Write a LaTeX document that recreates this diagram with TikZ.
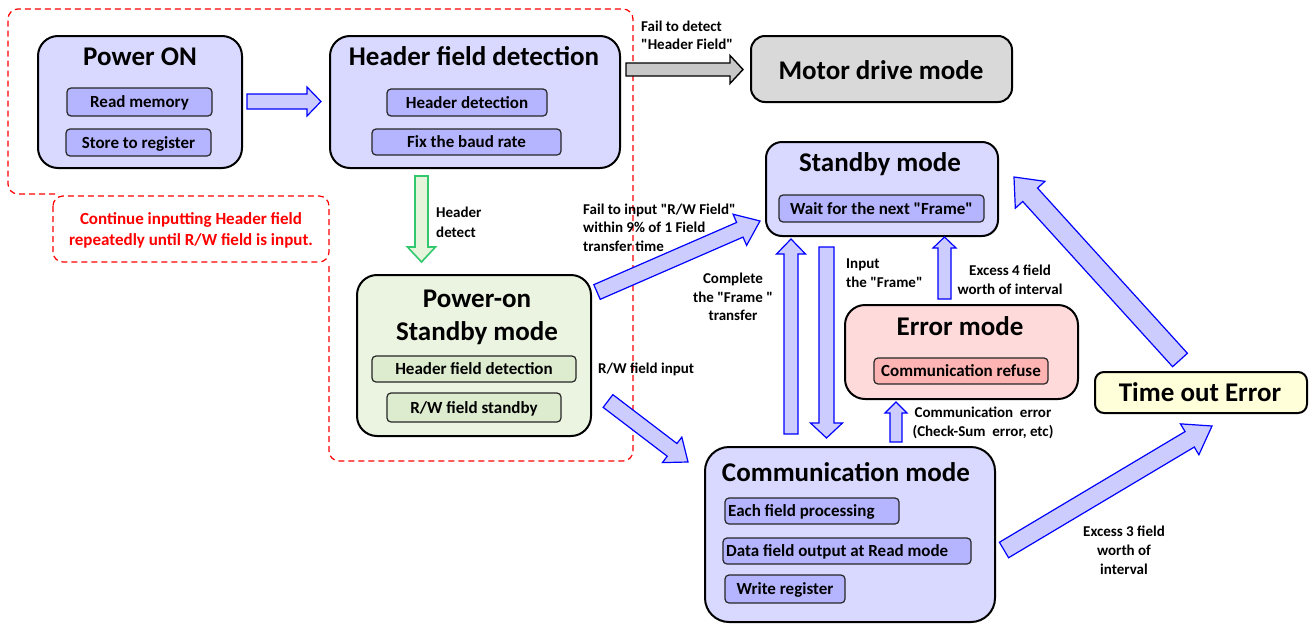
\documentclass[tikz,border=0pt]{standalone}
\usepackage{fontspec}
% plain family without the TeX quote mapping, so " stays straight
\newfontfamily\cfont{Carlito}
\usetikzlibrary{calc}

\definecolor{lav}{RGB}{217,217,255}
\definecolor{lavsub}{RGB}{181,181,255}
\definecolor{arrfill}{RGB}{204,204,255}
\definecolor{arrline}{RGB}{0,0,255}
\definecolor{grn}{RGB}{235,243,225}
\definecolor{grnsub}{RGB}{221,236,207}
\definecolor{grnarrfill}{RGB}{230,244,220}
\definecolor{grnarrline}{RGB}{50,200,110}
\definecolor{gry}{RGB}{217,217,217}
\definecolor{gryarr}{RGB}{200,200,200}
\definecolor{pnk}{RGB}{255,218,218}
\definecolor{pnksub}{RGB}{255,180,180}
\definecolor{ylw}{RGB}{255,255,218}
\definecolor{dashred}{RGB}{255,0,0}

% block arrow: #1 style, #2 tail, #3 tip, #4 half shaft width, #5 half head width, #6 head length
\newcommand{\blockarrow}[6]{%
  \coordinate (ahb) at ($(#3)!#6!(#2)$);
  \draw[#1] ($(#2)!#4!90:(#3)$) -- ($(ahb)!#4!90:(#3)$) -- ($(ahb)!#5!90:(#3)$)
    -- (#3) -- ($(ahb)!#5!-90:(#3)$) -- ($(ahb)!#4!-90:(#3)$)
    -- ($(#2)!#4!-90:(#3)$) -- cycle;}

\begin{document}
\begin{tikzpicture}[x=1pt,y=-1pt,
  mainbox/.style={draw=black,line width=2pt,rounded corners=20pt,inner sep=0pt},
  subbox/.style={draw=black!85,line width=1.2pt,rounded corners=4pt,inner sep=0pt,
    font=\cfont\fontsize{17}{20}\selectfont\bfseries,text height=11pt,text depth=0pt},
  subtxt/.style={font=\cfont\fontsize{17}{20}\selectfont\bfseries,anchor=base west,inner sep=0pt},
  ttl/.style={font=\cfont\fontsize{27}{32}\selectfont\bfseries,anchor=base,inner sep=0pt},
  lbl/.style={font=\cfont\fontsize{15}{18}\selectfont\bfseries,anchor=base,inner sep=0pt},
  lbll/.style={lbl,anchor=base west},
  redtxt/.style={font=\cfont\fontsize{17}{20}\selectfont\bfseries,text=dashred,anchor=base,inner sep=0pt},
  redline/.style={draw=dashred,line width=1.2pt,dash pattern=on 6pt off 4pt,rounded corners=10pt},
  barr/.style={draw=arrline,fill=arrfill,line width=1.2pt,line join=miter},
  garr/.style={draw=grnarrline,fill=grnarrfill,line width=1.6pt,line join=miter},
  kgarr/.style={draw=black,fill=gryarr,line width=1.4pt,line join=miter}
]
\useasboundingbox (0,0) rectangle (1309,624);

% dashed region round the header handling
\draw[redline] (55,194) -- (8,194) -- (8,9) -- (633,9) -- (633,461) -- (329,461) -- (329,262);
\draw[redline] (53,196) rectangle (329,262);
\node[redtxt] (rt1) at (191,224.5) {Continue inputting Header field};
\node[redtxt] (rt2) at (191,245.5) {repeatedly until R/W field is input.};

% Power ON
\node[mainbox,fill=lav,minimum width=204pt,minimum height=132pt] (pon) at (140,102) {};
\node[ttl] (pont) at (140,65.5) {Power ON};
\node[subbox,fill=lavsub,minimum width=145pt,minimum height=28pt] (rdm) at (139.5,102) {Read memory};
\node[subbox,fill=lavsub,minimum width=145pt,minimum height=27pt] (str) at (138.5,142.5) {Store to register};

% Header field detection
\node[mainbox,fill=lav,minimum width=290pt,minimum height=132pt] (hfd) at (475,102) {};
\node[ttl] (hfdt) at (474,65.5) {Header field detection};
\node[subbox,fill=lavsub,minimum width=160pt,minimum height=27pt] (hdt) at (467,102.5) {Header detection};
\node[subbox,fill=lavsub,minimum width=189pt,minimum height=26pt] (fbr) at (466.5,142) {Fix the baud rate};

% Motor drive mode
\node[mainbox,fill=gry,minimum width=261pt,minimum height=66pt,rounded corners=14pt] (mot) at (881.5,69) {};
\node[ttl] (mott) at (881,79.5) {Motor drive mode};

% Standby mode
\node[mainbox,fill=lav,minimum width=232pt,minimum height=94pt,rounded corners=16pt] (stb) at (882,189) {};
\node[ttl] (stbt) at (880,171.5) {Standby mode};
\node[subbox,fill=lavsub,minimum width=205pt,minimum height=27pt] (wfn) at (881.5,208.5) {Wait for the next "Frame"};

% Power-on Standby mode
\node[mainbox,fill=grn,minimum width=234pt,minimum height=161pt] (psb) at (474,355.5) {};
\node[ttl] (psbt1) at (477,307.5) {Power-on};
\node[ttl] (psbt2) at (477,340.5) {Standby mode};
\node[subbox,fill=grnsub,minimum width=204pt,minimum height=26pt] (phf) at (474,369) {Header field detection};
\node[subbox,fill=grnsub,minimum width=174pt,minimum height=29pt] (prw) at (474,407.5) {R/W field standby};

% Error mode
\node[mainbox,fill=pnk,minimum width=233pt,minimum height=94pt] (err) at (961.5,352) {};
\node[ttl] (errt) at (960,335.5) {Error mode};
\node[subbox,fill=pnksub,minimum width=174pt,minimum height=26pt] (crf) at (961,371) {Communication refuse};

% Time out Error
\node[mainbox,fill=ylw,minimum width=212pt,minimum height=41pt,rounded corners=9pt] (tout) at (1201,392.5) {};
\node[ttl] (toutt) at (1200,401.5) {Time out Error};

% Communication mode
\node[mainbox,fill=lav,minimum width=290pt,minimum height=175pt,rounded corners=24pt] (com) at (850,534.5) {};
\node[ttl] (comt) at (846,481.5) {Communication mode};
\node[subbox,fill=lavsub,minimum width=174pt,minimum height=26pt] (efp) at (812,511) {};
\node[subtxt] (efpt) at (728,516.5) {Each field processing};
\node[subbox,fill=lavsub,minimum width=248pt,minimum height=26pt] (dfo) at (847,551) {};
\node[subtxt] (dfot) at (726,556.5) {Data field output at Read mode};
\node[subbox,fill=lavsub,minimum width=120pt,minimum height=28pt] (wrr) at (785,589) {Write register};

% arrow end points
\coordinate (a1s) at (247,101.5);  \coordinate (a1e) at (321,101.5);
\coordinate (a2s) at (626,69.5);   \coordinate (a2e) at (743,69.5);
\coordinate (a3s) at (421.5,176);  \coordinate (a3e) at (421.5,262);
\coordinate (a4s) at (597,292);    \coordinate (a4e) at (760,221);
\coordinate (a5s) at (608,401);    \coordinate (a5e) at (688,462);
\coordinate (a6s) at (791,434);    \coordinate (a6e) at (791,239);
\coordinate (a7s) at (826.5,247);  \coordinate (a7e) at (826.5,438);
\coordinate (a8s) at (944.5,299);  \coordinate (a8e) at (944.5,237);
\coordinate (a9s) at (896,442);    \coordinate (a9e) at (896,402);
\coordinate (a10s) at (1004,550);  \coordinate (a10e) at (1212,426);
\coordinate (a11s) at (1180,360);  \coordinate (a11e) at (1014,177);

\blockarrow{barr}{a1s}{a1e}{7.5pt}{14.5pt}{14pt}
\blockarrow{kgarr}{a2s}{a2e}{6.5pt}{14pt}{13pt}
\blockarrow{garr}{a3s}{a3e}{6.5pt}{14pt}{15pt}
\blockarrow{barr}{a4s}{a4e}{8pt}{17pt}{22pt}
\blockarrow{barr}{a5s}{a5e}{8pt}{16pt}{20pt}
\blockarrow{barr}{a6s}{a6e}{7pt}{14.5pt}{15pt}
\blockarrow{barr}{a7s}{a7e}{7.5pt}{16pt}{15pt}
\blockarrow{barr}{a8s}{a8e}{6.5pt}{11.5pt}{11pt}
\blockarrow{barr}{a9s}{a9e}{6pt}{11pt}{11pt}
\blockarrow{barr}{a10s}{a10e}{9pt}{18pt}{26pt}
\blockarrow{barr}{a11s}{a11e}{10pt}{20pt}{24pt}

% connector labels
\node[lbll] (l2a) at (641,31) {Fail to detect};
\node[lbll] (l2b) at (641,49) {"Header Field"};
\node[lbll] (l3a) at (436,217) {Header};
\node[lbll] (l3b) at (436,237) {detect};
\node[lbll] (l4a) at (583,214) {Fail to input "R/W Field"};
\node[lbll] (l4b) at (583,232) {within 9\% of 1 Field};
\node[lbll] (l4c) at (583,251) {transfer time};
\node[lbll] (l5) at (598,373) {R/W field input};
\node[lbl] (l6a) at (733,283) {Complete};
\node[lbl] (l6b) at (733,302) {the "Frame "};
\node[lbl] (l6c) at (733,320) {transfer};
\node[lbll] (l7a) at (846,268) {Input};
\node[lbll] (l7b) at (846,287) {the "Frame"};
\node[lbl] (l8a) at (1010,275) {Excess 4 field};
\node[lbl] (l8b) at (1010,294) {worth of interval};
\node[lbl] (l9a) at (983,417) {Communication\ \ error};
\node[lbl] (l9b) at (983,436) {(Check-Sum\ \ error, etc)};
\node[lbl] (l10a) at (1124,536) {Excess 3 field};
\node[lbl] (l10b) at (1124,555) {worth of};
\node[lbl] (l10c) at (1124,574) {interval};
\end{tikzpicture}
\end{document}
